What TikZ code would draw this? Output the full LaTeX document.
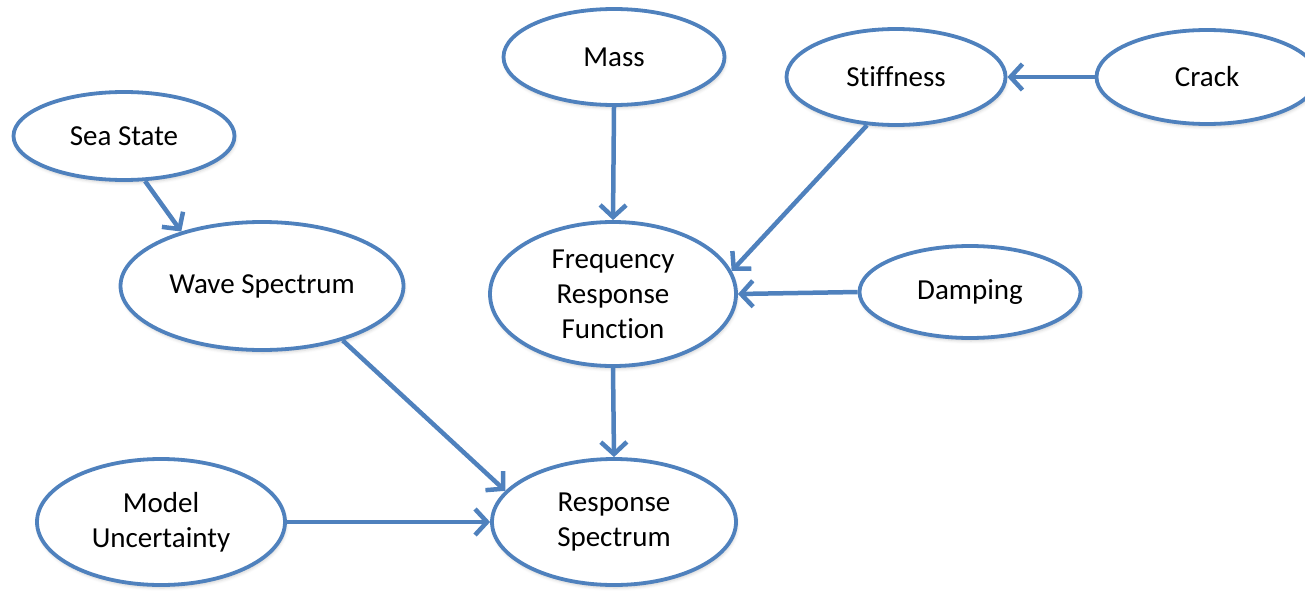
\documentclass[tikz,border=0pt]{standalone}
\usepackage{fontspec}
\setmainfont{Carlito}[Ligatures=NoCommon]
\usetikzlibrary{shapes.geometric,arrows.meta,shadows.blur}
\definecolor{linkblue}{HTML}{4F81BD}
\tikzset{
  bubble/.style={ellipse, draw=linkblue, line width=3.8pt, fill=white,
    inner sep=0pt, align=center, font=\fontsize{29}{35}\selectfont,
    blur shadow={shadow xshift=1pt, shadow yshift=-3pt, shadow blur radius=3pt, shadow opacity=18}},
  link/.style={draw=linkblue, line width=4.5pt,
    -{Straight Barb[length=12pt, width=26pt, line width=4.5pt]}}
}
\begin{document}
\begin{tikzpicture}[x=1pt,y=-1pt]
  \useasboundingbox (0,0) rectangle (1305,594);

  % variables of the network
  \node[bubble, minimum width=221pt, minimum height=88pt] (sea)   at (124,136) {Sea State};
  \node[bubble, minimum width=283pt, minimum height=128pt] (wave) at (262,286) {Wave Spectrum};
  \node[bubble, minimum width=221pt, minimum height=96pt] (mass)  at (614,57)  {Mass};
  \node[bubble, minimum width=219pt, minimum height=96pt] (stiff) at (896,77)  {Stiffness};
  \node[bubble, minimum width=221pt, minimum height=94pt] (crack) at (1207,77) {Crack};
  \node[bubble, minimum width=246pt, minimum height=144pt] (frf)  at (613,294) {Frequency\\Response\\Function};
  \node[bubble, minimum width=221pt, minimum height=92pt] (damp)  at (970,292) {Damping};
  \node[bubble, minimum width=248pt, minimum height=126pt] (model) at (161,522) {Model\\Uncertainty};
  \node[bubble, minimum width=244pt, minimum height=126pt] (resp) at (614,522) {Response\\Spectrum};

  % dependencies
  \draw[link] (sea.-65.5)   -- (wave.146.5);
  \draw[link] (mass.south)  -- (frf.north);
  \draw[link] (stiff.-121)  -- (frf.11);
  \draw[link] (crack.west)  -- (stiff.east);
  \draw[link] (damp.west)   -- (frf.east);
  \draw[link] (frf.south)   -- (resp.north);
  \draw[link] (wave.-34.7)  -- (resp.164);
  \draw[link] (model.east)  -- (resp.west);
\end{tikzpicture}
\end{document}
